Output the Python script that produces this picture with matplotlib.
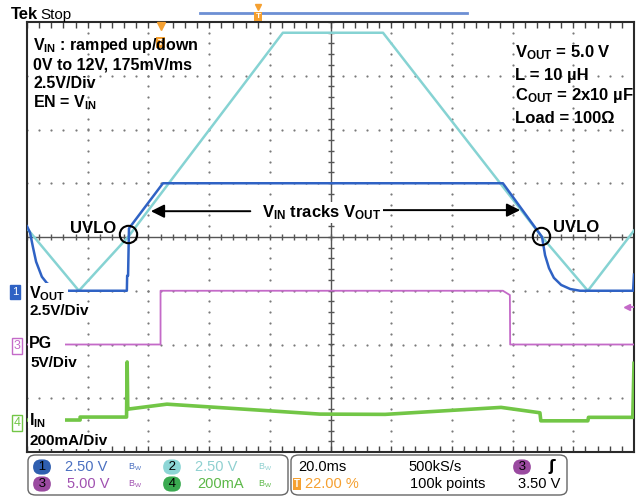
import matplotlib.pyplot as plt
import numpy as np
from matplotlib.patches import FancyBboxPatch, Rectangle

# scope settings (time in ms, 20 ms/div over 10 divisions)
ms_per_div = 20

# ch2: V_IN (V), 2.5 V/div, ground 1 div below centre
vin_t = [0, 17.1, 33.3, 84.3, 117.3, 169.7, 184.8, 200]
vin_v = [2.9, 0.0, 2.5, 12.0, 12.0, 2.5, 0.0, 2.8]

# ch1: V_OUT (V), 2.5 V/div, ground 1 div below centre
vout_t = [0, 1.0, 2.0, 3.0, 4.9, 6.6, 9.2, 13.5, 32.9, 33.0, 33.3, 33.6, 44.8,
          156.8, 169.7, 170.7, 172.0, 173.6, 176.0, 179.0, 182.2, 199.7, 200]
vout_v = [3.0, 2.7, 2.0, 1.35, 0.65, 0.35, 0.13, 0.0, 0.0, 0.7, 0.7, 2.9, 5.0,
          5.0, 2.5, 1.65, 1.05, 0.6, 0.27, 0.08, 0.0, 0.0, 0.75]

# ch3: PG (V), 5 V/div, ground 2 div below centre
pg_t = [0, 44.0, 44.0, 156.8, 159.1, 159.2, 200]
pg_v = [0, 0, 5.0, 5.0, 4.6, 0, 0]

# ch4: I_IN (mA), 200 mA/div, ground 3.45 div below centre
iin_t = [0, 17.5, 17.5, 32.8, 33.0, 33.2, 33.6, 46.1, 84.3, 96.5, 118.0,
         156.2, 169.0, 169.3, 184.8, 185.0, 199.6, 200]
iin_ma = [9, 9, 20, 20, 225, 55, 50, 68, 40, 31, 30,
          56, 36, 6, 6, 19, 19, 220]

# UVLO points (ms, V on ch1)
uvlo_t = [33.4, 169.4]
uvlo_v = [2.64, 2.55]

ch_scale = {"ch1": 2.5, "ch2": 2.5, "ch3": 5.0, "ch4": 200.0}
ch_offset = {"ch1": -1.0, "ch2": -1.0, "ch3": -2.0, "ch4": -3.45}

c_ch1 = "#2f62c4"
c_ch2 = "#86d3d3"
c_ch3 = "#c46ac8"
c_ch4 = "#72c646"
c_orange = "#f5a030"
c_grid = "#7a7a7a"

plt.rcParams["font.family"] = ["Liberation Sans", "DejaVu Sans"]
plt.rcParams["mathtext.fontset"] = "custom"
plt.rcParams["mathtext.bf"] = "Liberation Sans:bold"
plt.rcParams["mathtext.rm"] = "Liberation Sans:bold"
plt.rcParams["mathtext.it"] = "Liberation Sans:bold"

W, H = 642, 500
fig = plt.figure(figsize=(W / 100, H / 100), dpi=100)


def fx(p):
    return p / W


def fy(p):
    return 1 - p / H


def to_div(vals, ch):
    return ch_offset[ch] + np.asarray(vals, dtype=float) / ch_scale[ch]


ax = fig.add_axes([fx(27), fy(452), 607 / W, 430 / H])
ax.set_xlim(0, 10 * ms_per_div)
ax.set_ylim(-4, 4)
ax.set_xticks([])
ax.set_yticks([])

# graticule: dotted division lines, solid centre lines, ticks on frame
minor_x = np.arange(0, 200.01, ms_per_div / 5)
minor_y = np.arange(-4, 4.01, 0.2)
gx, gy = [], []
for t in range(20, 200, 20):
    if t != 100:
        gx += [t] * len(minor_y)
        gy += list(minor_y)
for yv in range(-3, 4):
    if yv != 0:
        gx += list(minor_x)
        gy += [yv] * len(minor_x)
ax.plot(gx, gy, ls="none", marker="o", ms=1.6, mew=0, color=c_grid, zorder=1)
ax.axhline(0, color="#555555", lw=1, zorder=1)
ax.axvline(100, color="#555555", lw=1, zorder=1)
ax.plot(minor_x, np.zeros_like(minor_x), ls="none", marker="|", ms=5,
        mew=1, color="#555555", zorder=1)
ax.plot(np.full_like(minor_y, 100), minor_y, ls="none", marker="_", ms=5,
        mew=1, color="#555555", zorder=1)
# frame ticks (inward)
ax.plot(minor_x, np.full_like(minor_x, 4), ls="none", marker=3, ms=4,
        mew=1, color="#444444", zorder=2)
ax.plot(minor_x, np.full_like(minor_x, -4), ls="none", marker=2, ms=4,
        mew=1, color="#444444", zorder=2)
ax.plot(np.zeros_like(minor_y), minor_y, ls="none", marker=0, ms=4,
        mew=1, color="#444444", zorder=2)
ax.plot(np.full_like(minor_y, 200), minor_y, ls="none", marker=1, ms=4,
        mew=1, color="#444444", zorder=2)
for s in ax.spines.values():
    s.set_color("#2a2a2a")
    s.set_linewidth(1.5)

# traces
ax.plot(vin_t, to_div(vin_v, "ch2"), color=c_ch2, lw=1.8, zorder=3)
ax.plot(vout_t, to_div(vout_v, "ch1"), color=c_ch1, lw=1.8, zorder=4)
ax.plot(pg_t, to_div(pg_v, "ch3"), color=c_ch3, lw=1.3, zorder=3)
ax.plot(iin_t, to_div(iin_ma, "ch4"), color=c_ch4, lw=2.6, zorder=3)

# UVLO circles and arrows
ax.plot(uvlo_t, to_div(uvlo_v, "ch1"), ls="none", marker="o", ms=12.5,
        mfc="none", mec="black", mew=1.5, zorder=6)
ax.annotate("", xy=(39.9, 0.48), xytext=(74.5, 0.48),
            arrowprops=dict(arrowstyle="-|>", color="black", lw=1.4,
                            mutation_scale=20), zorder=6)
ax.annotate("", xy=(163.4, 0.5), xytext=(113.7, 0.5),
            arrowprops=dict(arrowstyle="-|>", color="black", lw=1.4,
                            mutation_scale=20), zorder=6)

# trigger markers
ax.plot([44], [3.93], marker="v", ms=6, color=c_orange, ls="none",
        clip_on=False, zorder=7)
ax.text(44, 3.62, "T", color="white", fontsize=6.5, fontweight="bold",
        ha="center", va="center", zorder=7,
        bbox=dict(boxstyle="square,pad=0.15", fc=c_orange, ec="none"))
pg_trig = to_div([3.5], "ch3")[0]
ax.plot([197.8], [pg_trig], marker="<", ms=5, color=c_ch3, ls="none", zorder=7)
ax.plot([197.8, 200], [pg_trig, pg_trig], color=c_ch3, lw=1.3, zorder=7)

# white patches behind the channel labels (hide traces like the scope does)
for x0, y0, x1, y1 in [(28, 283, 68, 300), (28, 336, 65, 350), (28, 411, 65, 428)]:
    fig.add_artist(Rectangle((fx(x0), fy(y1)), fx(x1) - fx(x0), fy(y0) - fy(y1),
                             transform=fig.transFigure, fc="white", ec="none",
                             zorder=2))

bold = dict(fontweight="bold", color="black")
white_box = dict(facecolor="white", edgecolor="none", pad=1)

# annotations
fs_l = 11.5
fig.text(fx(33), fy(50), r"$\mathbf{V_{IN}}$ : ramped up/down", fontsize=fs_l, **bold)
fig.text(fx(33), fy(70), "0V to 12V, 175mV/ms", fontsize=fs_l, **bold)
fig.text(fx(33), fy(88), "2.5V/Div", fontsize=fs_l, **bold)
fig.text(fx(33), fy(107), r"EN = $\mathbf{V_{IN}}$", fontsize=fs_l, **bold)

fs_r = 12
fig.text(fx(515), fy(57), r"$\mathbf{V_{OUT}}$ = 5.0 V", fontsize=fs_r, **bold)
fig.text(fx(515), fy(80), "L = 10 \u00b5H", fontsize=fs_r, **bold)
fig.text(fx(515), fy(100), r"$\mathbf{C_{OUT}}$" + " = 2x10 \u00b5F", fontsize=fs_r, **bold)
fig.text(fx(515), fy(123), "Load = 100\u03a9", fontsize=fs_r, **bold)

fig.text(fx(70), fy(233), "UVLO", fontsize=12, **bold)
fig.text(fx(553), fy(232), "UVLO", fontsize=12, **bold)
fig.text(fx(262), fy(217), r"$\mathbf{V_{IN}}$ tracks $\mathbf{V_{OUT}}$",
         fontsize=12, bbox=white_box, **bold)

fig.text(fx(29), fy(298), r"$\mathbf{V_{OUT}}$", fontsize=11.5, zorder=4, **bold)
fig.text(fx(30), fy(315), "2.5V/Div", fontsize=11, bbox=white_box, zorder=4, **bold)
fig.text(fx(29), fy(348), "PG", fontsize=11.5, zorder=4, **bold)
fig.text(fx(30), fy(367), "5V/Div", fontsize=11, bbox=white_box, zorder=4, **bold)
fig.text(fx(29), fy(425), r"$\mathbf{I_{IN}}$", fontsize=11.5, zorder=4, **bold)
fig.text(fx(30), fy(445), "200mA/Div", fontsize=11, bbox=white_box, zorder=4, **bold)

# channel ground markers
fig.text(fx(15), fy(292), "1", fontsize=8, color="white", ha="center",
         va="center", bbox=dict(boxstyle="square,pad=0.2", fc=c_ch1, ec=c_ch1))
fig.text(fx(17), fy(346), "3", fontsize=9, color=c_ch3, ha="center",
         va="center", bbox=dict(boxstyle="square,pad=0.15", fc="white", ec=c_ch3))
fig.text(fx(17), fy(423), "4", fontsize=9, color=c_ch4, ha="center",
         va="center", bbox=dict(boxstyle="square,pad=0.15", fc="white", ec=c_ch4))

narrow = ["Liberation Sans Narrow", "Liberation Sans"]

# header
fig.text(fx(11), fy(19), "Tek", fontsize=12, fontweight="bold", family=narrow)
fig.text(fx(40), fy(19), "Stop", fontsize=11, family=narrow)
fig.add_artist(plt.Line2D([fx(200), fx(467)], [fy(13), fy(13)],
                          color="#6d8fd4", lw=2, transform=fig.transFigure))
fig.add_artist(plt.Line2D([fx(258)], [fy(7)], marker="v", ms=4,
                          color=c_orange, transform=fig.transFigure))
fig.text(fx(258), fy(16), "T", color="white", fontsize=6, fontweight="bold",
         ha="center", va="center",
         bbox=dict(boxstyle="square,pad=0.12", fc=c_orange, ec="none"))

# readout panel
for x0, x1 in [(28, 288), (291, 567)]:
    fig.add_artist(FancyBboxPatch((fx(x0), fy(495)), fx(x1) - fx(x0),
                                  fy(455) - fy(495),
                                  boxstyle="round,pad=0,rounding_size=0.012",
                                  transform=fig.transFigure, fc="white",
                                  ec="#666666", lw=1))


def pill(x, y, s, fc):
    fig.text(fx(x), fy(y), s, fontsize=9.5, color="black", ha="center",
             va="center", family=narrow,
             bbox=dict(boxstyle="round,pad=0.12,rounding_size=0.6", fc=fc,
                       ec="none"))


pill(42, 467, " 1 ", "#2f5fb0")
pill(172, 467, " 2 ", "#8dd6d6")
pill(42, 484, " 3 ", "#9a4aa0")
pill(172, 484, " 4 ", "#3aaa50")
pill(522, 467, " 3 ", "#9a4aa0")

panel = [
    (65, 467, "2.50 V", "#4a6fc0"),
    (195, 467, "2.50 V", "#8fd0d0"),
    (67, 484, "5.00 V", "#a050b0"),
    (197, 484, "200mA", "#5cb848"),
    (298, 467, "20.0ms", "black"),
    (408, 467, "500kS/s", "black"),
    (305, 484, "22.00 %", c_orange),
    (410, 484, "100k points", "black"),
    (518, 484, "3.50 V", "black"),
]
for x, y, s, c in panel:
    fig.text(fx(x), fy(y), s, fontsize=10.5, color=c, va="center", family=narrow)

for x, y, c in [(128, 467, "#4a6fc0"), (258, 467, "#8fd0d0"),
                (128, 484, "#a050b0"), (258, 484, "#5cb848")]:
    fig.text(fx(x), fy(y), r"$\mathregular{B_W}$", fontsize=6.5, color=c,
             va="center")

fig.text(fx(548), fy(467), "\u0283", fontsize=11, fontweight="bold",
         color="black", va="center", family=["DejaVu Sans"])
fig.text(fx(297), fy(484), "T", color="white", fontsize=7, fontweight="bold",
         ha="center", va="center",
         bbox=dict(boxstyle="square,pad=0.15", fc=c_orange, ec="none"))

fig.savefig("out.png", dpi=100, facecolor="white")
